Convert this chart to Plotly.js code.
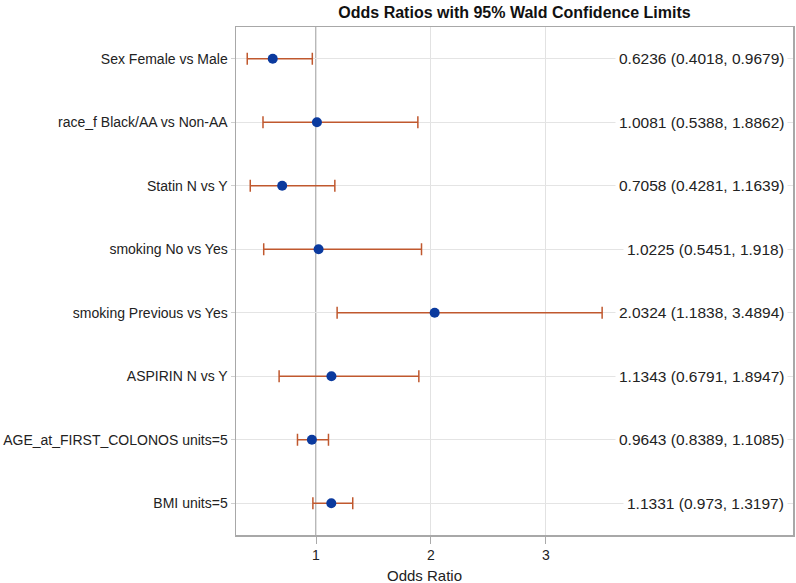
<!DOCTYPE html>
<html>
<head>
<meta charset="utf-8">
<script src="https://cdn.plot.ly/plotly-3.0.1.min.js"></script>
<style>html,body{margin:0;padding:0;background:#fff;}#chart{width:796px;height:583px;}</style>
</head>
<body>
<div id="chart"></div>
<script>
const effects = [
  "Sex Female vs Male",
  "race_f Black/AA vs Non-AA",
  "Statin N vs Y",
  "smoking No vs Yes",
  "smoking Previous vs Yes",
  "ASPIRIN N vs Y",
  "AGE_at_FIRST_COLONOS units=5",
  "BMI units=5"
];
const oddsRatio = [0.6236, 1.0081, 0.7058, 1.0225, 2.0324, 1.1343, 0.9643, 1.1331];
const lowerCL   = [0.4018, 0.5388, 0.4281, 0.5451, 1.1838, 0.6791, 0.8389, 0.973];
const upperCL   = [0.9679, 1.8862, 1.1639, 1.918, 3.4894, 1.8947, 1.1085, 1.3197];
const xTicks = [1, 2, 3];

const FONT = "Liberation Sans, Arial, sans-serif";

const trace = {
  type: "scatter",
  mode: "markers",
  x: oddsRatio,
  y: effects,
  marker: {color: "#0b3a9e", size: 10},
  error_x: {
    type: "data",
    symmetric: false,
    array: oddsRatio.map((v, i) => upperCL[i] - v),
    arrayminus: oddsRatio.map((v, i) => v - lowerCL[i]),
    color: "#c0582e",
    thickness: 1.5,
    width: 6
  },
  hoverinfo: "skip",
  showlegend: false
};

const annotations = effects.map((e, i) => ({
  xref: "paper", yref: "y",
  x: 1, y: e,
  xanchor: "right", yanchor: "middle",
  xshift: -5,
  text: `${oddsRatio[i]} (${lowerCL[i]}, ${upperCL[i]})`,
  showarrow: false,
  bgcolor: "#ffffff",
  borderpad: 3,
  font: {family: FONT, size: 15.5, color: "#222"}
}));
annotations.push({
  xref: "x", yref: "paper",
  x: 1.94, y: -0.079,
  xanchor: "center", yanchor: "middle",
  text: "Odds Ratio",
  showarrow: false,
  font: {family: FONT, size: 15, color: "#222"}
});

const layout = {
  width: 796, height: 583,
  margin: {l: 236, r: 3, t: 27, b: 48},
  paper_bgcolor: "#fff",
  plot_bgcolor: "#fff",
  title: {
    text: "<b>Odds Ratios with 95% Wald Confidence Limits</b>",
    x: 0.5, xref: "paper", xanchor: "center",
    y: 0.979, yref: "container", yanchor: "middle",
    font: {family: FONT, size: 16, color: "#111"}
  },
  xaxis: {
    range: [0.304, 5.15],
    tickvals: xTicks,
    ticktext: xTicks.map(String),
    ticks: "outside", ticklen: 7, tickcolor: "#aaa", tickwidth: 1,
    tickfont: {family: FONT, size: 14, color: "#222"},
    showgrid: true, gridcolor: "#e2e2e2", gridwidth: 1,
    zeroline: false,
    showline: true, linecolor: "#a8a8a8", linewidth: 1.5, mirror: true
  },
  yaxis: {
    type: "category",
    categoryorder: "array", categoryarray: effects,
    range: [7.5, -0.5],
    ticks: "outside", ticklen: 4, tickcolor: "#d0d0d0",
    tickfont: {family: FONT, size: 14, color: "#222"},
    ticklabelstandoff: 0,
    showgrid: true, gridcolor: "#e4e4e4", gridwidth: 1,
    zeroline: false,
    showline: true, linecolor: "#a8a8a8", linewidth: 1.5, mirror: true
  },
  shapes: [{
    type: "line", xref: "x", yref: "paper",
    x0: 1, x1: 1, y0: 0, y1: 1,
    line: {color: "#a0a0a0", width: 1.5},
    layer: "below"
  }],
  annotations: annotations
};

Plotly.newPlot("chart", [trace], layout, {displayModeBar: false, staticPlot: true});
</script>
</body>
</html>
